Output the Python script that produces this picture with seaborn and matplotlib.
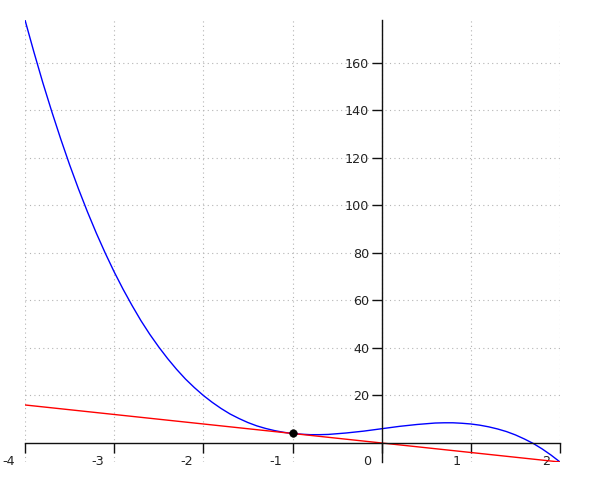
import matplotlib as mpl

mpl.use('Agg')
import matplotlib.pyplot as plt
import matplotlib.transforms as mtransforms
import numpy as np
import pandas as pd
import seaborn as sns

sns.set_style('white')
plt.rcParams['font.family'] = ['DejaVu Sans']

#### data ####
curve_x = [-4.0, -3.9, -3.8, -3.7, -3.6, -3.5, -3.4, -3.3, -3.2, -3.1,
           -3.0, -2.9, -2.8, -2.7, -2.6, -2.5, -2.4, -2.3, -2.2, -2.1,
           -2.0, -1.9, -1.8, -1.7, -1.6, -1.5, -1.4, -1.3, -1.2, -1.1,
           -1.0, -0.9, -0.8, -0.7, -0.6, -0.5, -0.4, -0.3, -0.2, -0.1,
           0.0, 0.1, 0.2, 0.3, 0.4, 0.5, 0.6, 0.7, 0.8, 0.9,
           1.0, 1.1, 1.2, 1.3, 1.4, 1.5, 1.6, 1.7, 1.8, 1.9, 2.0]
curve_y = [178.0, 164.5, 151.6, 139.5, 128.0, 117.1, 106.9, 97.3, 88.3, 79.9,
           72.0, 64.7, 57.9, 51.5, 45.7, 40.4, 35.5, 31.0, 26.9, 23.3,
           20.0, 17.1, 14.5, 12.2, 10.3, 8.6, 7.2, 6.1, 5.2, 4.5,
           4.0, 3.7, 3.5, 3.5, 3.6, 3.9, 4.2, 4.6, 5.0, 5.5,
           6.0, 6.5, 7.0, 7.4, 7.8, 8.1, 8.4, 8.5, 8.5, 8.3,
           8.0, 7.5, 6.8, 5.9, 4.8, 3.4, 1.7, -0.2, -2.5, -5.1, -8.0]

tangent_x = [-4.0, 2.0]
tangent_y = [16.0, -8.0]

point_x = [-1.0]
point_y = [4.0]

x_ticks = [-4, -3, -2, -1, 0, 1, 2]
y_ticks = [20, 40, 60, 80, 100, 120, 140, 160]

curve = pd.DataFrame({'x': curve_x, 'y': curve_y})
tangent = pd.DataFrame({'x': tangent_x, 'y': tangent_y})
point = pd.DataFrame({'x': point_x, 'y': point_y})

fig = plt.figure(figsize=(6, 5), dpi=100)
ax = fig.add_axes([25 / 600, 38 / 500, 535 / 600, 442 / 500])

sns.lineplot(data=curve, x='x', y='y', color='#0000ff', lw=1, ax=ax)
sns.lineplot(data=tangent, x='x', y='y', color='#ff0000', lw=1, ax=ax)
sns.scatterplot(data=point, x='x', y='y', color='black', s=30,
                edgecolor='black', zorder=5, ax=ax)

ax.set_xlim(-4, 2)
ax.set_ylim(-8, 178)
ax.set_xlabel('')
ax.set_ylabel('')

# axes through the origin
ax.spines['left'].set_position(('data', 0))
ax.spines['bottom'].set_position(('data', 0))
ax.spines['right'].set_color('none')
ax.spines['top'].set_color('none')
for s in ['left', 'bottom']:
    ax.spines[s].set_color('#111111')
    ax.spines[s].set_linewidth(1)

ax.set_xticks(x_ticks)
ax.set_xticklabels([str(t) for t in x_ticks])
ax.set_yticks(y_ticks)
ax.set_yticklabels([str(t) for t in y_ticks])
ax.tick_params(axis='both', direction='out', length=7, width=1,
               color='#111111', labelsize=9.2, labelcolor='#222222',
               bottom=True, left=True)
ax.tick_params(axis='x', pad=2)
ax.tick_params(axis='y', pad=2)

offset = mtransforms.ScaledTranslation(-7.2 / 72, 0, fig.dpi_scale_trans)
for lab in ax.get_xticklabels():
    lab.set_horizontalalignment('right')
    lab.set_transform(lab.get_transform() + offset)

ax.grid(True, linestyle=(0, (1, 3)), color='#b4b4b4', lw=0.8)
ax.set_axisbelow(True)

plt.savefig('out.png', dpi=100)
